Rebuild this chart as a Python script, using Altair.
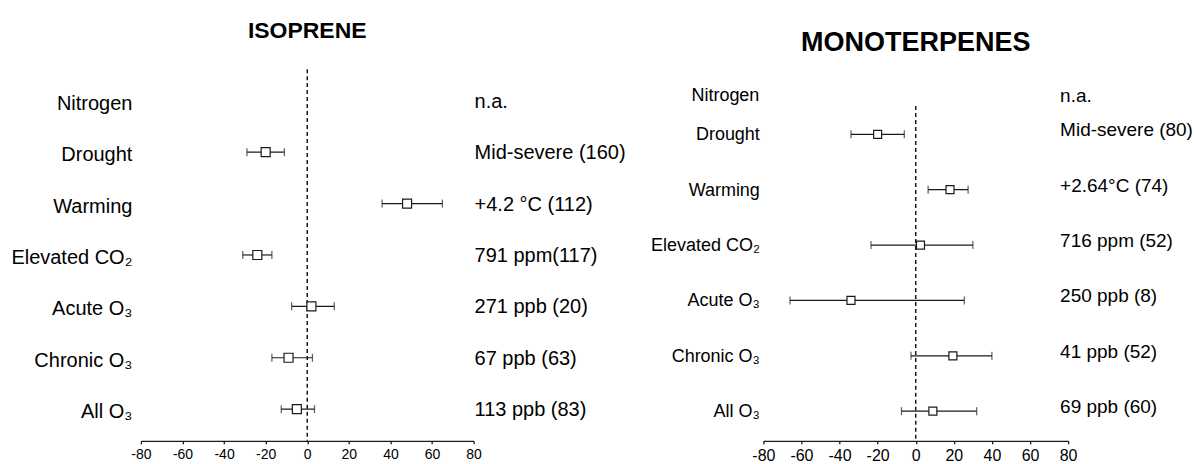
import altair as alt
import pandas as pd

FONT = "Liberation Sans"
INK = "#1a1a1a"

# ---------------- data ----------------
rows = ["Nitrogen", "Drought", "Warming", "Elevated CO₂", "Acute O₃", "Chronic O₃", "All O₃"]

iso_mean = [None, -20, 48, -24, 2, -9, -5]
iso_lo = [None, -29, 36, -31, -7.5, -17, -12.5]
iso_hi = [None, -11, 65, -17, 13, 2.5, 3.5]
iso_note = ["n.a.", "Mid-severe (160)", "+4.2 °C (112)", "791 ppm(117)",
            "271 ppb (20)", "67 ppb (63)", "113 ppb (83)"]

mono_mean = [None, -20, 18, 2.5, -34, 19.5, 9]
mono_lo = [None, -34, 6.5, -23.5, -66, -2.5, -7.5]
mono_hi = [None, -6, 27.5, 30, 25.5, 40, 32]
mono_note = ["n.a.", "Mid-severe (80)", "+2.64°C (74)", "716 ppm (52)",
             "250 ppb (8)", "41 ppb (52)", "69 ppb (60)"]

x_ticks = [-80, -60, -40, -20, 0, 20, 40, 60, 80]
zero_ref = [0]


def panel(df, domain, title, title_size, title_offset, width, height,
          label_size, label_pad, label_offset, note_size, note_x, note_dy,
          tick_font, axis_offset, box_size, cap_size, yscale, rule_top, extra=None):
    xscale = alt.Scale(domain=[-80, 80], nice=False, zero=False)
    x_axis = alt.Axis(values=x_ticks, title=None, grid=False, domainColor=INK,
                      domainWidth=1.3, tickColor=INK, tickWidth=1.3, tickSize=3,
                      labelFontSize=tick_font, labelFont=FONT, labelColor="black",
                      labelPadding=4, offset=axis_offset, labelFlush=False,
                      labelExpr="'' + datum.value")
    y_axis = alt.Axis(title=None, domain=False, ticks=False, grid=False,
                      labelFontSize=label_size, labelFont=FONT, labelColor="black",
                      labelPadding=label_pad, labelOffset=label_offset)
    X = lambda f: alt.X(f, scale=xscale, axis=x_axis)
    Y = alt.Y("row:N", scale=yscale, axis=y_axis, sort=domain)

    zero = alt.Chart(pd.DataFrame({"z": zero_ref})).mark_rule(
        color=INK, strokeWidth=1.5, strokeDash=[4, 3]
    ).encode(x=X("z:Q"), y=alt.value(rule_top), y2=alt.value(height + axis_offset))

    base = alt.Chart(df)
    bars = base.mark_rule(color=INK, strokeWidth=1.2).encode(x=X("lo:Q"), x2="hi:Q", y=Y)
    caps = base.transform_fold(["lo", "hi"], as_=["end", "val"]).mark_tick(
        color=INK, thickness=1.2, size=cap_size, orient="vertical"
    ).encode(x=X("val:Q"), y=Y)
    boxes = base.mark_square(size=box_size, filled=True, fill="white", stroke=INK,
                             strokeWidth=1.2, opacity=1).encode(x=X("mean:Q"), y=Y)
    notes = alt.Chart(df).mark_text(align="left", baseline="middle", fontSize=note_size,
                                    font=FONT, color="black", dy=note_dy).encode(
        x=alt.value(note_x), y=Y, text="note:N")
    layers = [zero, bars, caps, boxes, notes]
    if extra is not None:
        layers += extra
    return alt.layer(*layers).properties(
        width=width, height=height,
        title=alt.TitleParams(title, fontSize=title_size, font=FONT, fontWeight="bold",
                              anchor="middle", frame="group", offset=title_offset,
                              color="black"))


iso_df = pd.DataFrame({"row": rows, "mean": iso_mean, "lo": iso_lo, "hi": iso_hi, "note": iso_note})
left = panel(iso_df, rows, "ISOPRENE", 23, 25, 333, 360,
             20, 9, 3, 20, 334, 1, 14, 6, 81, 8,
             alt.Scale(domain=rows, paddingInner=0, paddingOuter=0), -6)

mono_df = pd.DataFrame({"row": rows[1:], "mean": mono_mean[1:], "lo": mono_lo[1:],
                        "hi": mono_hi[1:], "note": mono_note[1:]})
nitro_df = pd.DataFrame({"row": rows[:1], "note": mono_note[:1]})
R_W, R_H = 305, 364
nitro_label = alt.Chart(nitro_df).mark_text(align="right", baseline="middle", fontSize=18,
                                            font=FONT, color="black").encode(
    x=alt.value(-4), y=alt.value(21), text="row:N")
nitro_note = alt.Chart(nitro_df).mark_text(align="left", baseline="middle", fontSize=19,
                                           font=FONT, color="black").encode(
    x=alt.value(R_W - 8), y=alt.value(21), text="note:N")
right = panel(mono_df, rows[1:], "MONOTERPENES", 27, 18, R_W, R_H,
              18, 4, 1, 19, R_W - 8, -4, 16, 2, 64, 8,
              alt.Scale(domain=rows[1:], paddingInner=0, paddingOuter=0.285, align=1), 31,
              extra=[nitro_label, nitro_note])

chart = alt.hconcat(left, right, spacing=290, bounds="flush").properties(
    padding={"left": 10, "top": 20, "right": 0, "bottom": 0},
    background="white",
).configure_view(stroke="transparent", strokeWidth=0)

chart.save("out.html", embed_options={"renderer": "svg", "actions": False})
